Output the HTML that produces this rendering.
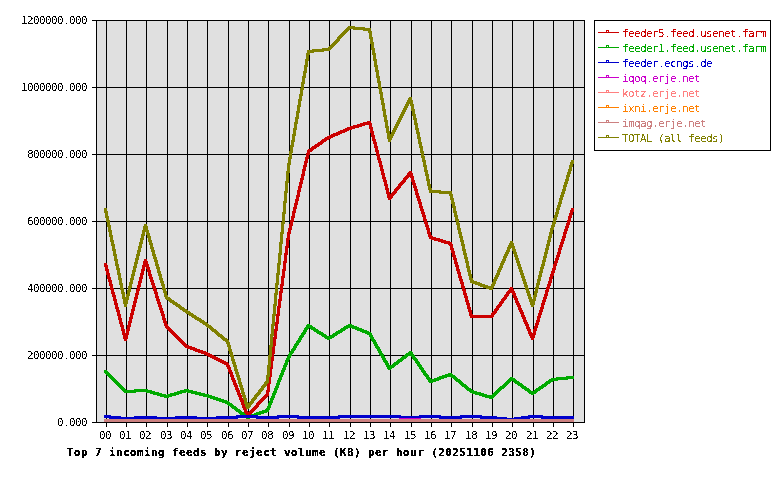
<!DOCTYPE html>
<html><head><meta charset="utf-8"><title>Top 7 incoming feeds by reject volume</title>
<style>
html,body{margin:0;padding:0;background:#fff;}
#c{position:relative;width:780px;height:480px;overflow:hidden;background:#fff;}
svg{position:absolute;left:0;top:0;}
.t{position:absolute;white-space:pre;font-family:"DejaVu Sans Mono","Liberation Mono",monospace;font-size:11px;line-height:13px;letter-spacing:-0.62px;}
.yl{text-align:right;width:66px;left:21px;color:#000;}
.xl{color:#000;}
.ti{font-weight:bold;letter-spacing:0.38px;color:#000;}
</style></head><body><div id="c">
<svg width="780" height="480" viewBox="0 0 780 480" shape-rendering="crispEdges">
<defs><filter id="th" x="0" y="0" width="100%" height="100%" color-interpolation-filters="sRGB"><feComponentTransfer><feFuncA type="discrete" tableValues="0 1"/></feComponentTransfer></filter><filter id="tb" x="0" y="0" width="100%" height="100%" color-interpolation-filters="sRGB"><feComponentTransfer><feFuncA type="discrete" tableValues="0 1 1"/></feComponentTransfer></filter></defs>
<rect x="96" y="20" width="489" height="403" fill="#e0e0e0"/>
<path d="M92 20h493v1h-493zM92 87h493v1h-493zM92 154h493v1h-493zM92 221h493v1h-493zM92 288h493v1h-493zM92 355h493v1h-493zM92 422h493v1h-493zM96 20h1v403h-1zM584 20h1v403h-1zM106 20h1v407h-1zM126 20h1v407h-1zM146 20h1v407h-1zM167 20h1v407h-1zM187 20h1v407h-1zM207 20h1v407h-1zM228 20h1v407h-1zM248 20h1v407h-1zM268 20h1v407h-1zM289 20h1v407h-1zM309 20h1v407h-1zM329 20h1v407h-1zM350 20h1v407h-1zM370 20h1v407h-1zM390 20h1v407h-1zM411 20h1v407h-1zM431 20h1v407h-1zM451 20h1v407h-1zM472 20h1v407h-1zM492 20h1v407h-1zM512 20h1v407h-1zM533 20h1v407h-1zM553 20h1v407h-1zM573 20h1v407h-1z" fill="#000"/>
<path d="M367 121h4v1h-4zM363 122h8v1h-8zM360 123h12v1h-12zM357 124h15v1h-15zM353 125h12v1h-12zM369 125h3v1h-3zM350 126h12v1h-12zM369 126h3v1h-3zM347 127h12v1h-12zM369 127h4v1h-4zM345 128h10v1h-10zM369 128h4v1h-4zM343 129h9v1h-9zM370 129h3v1h-3zM340 130h9v1h-9zM370 130h3v1h-3zM338 131h9v1h-9zM370 131h4v1h-4zM336 132h9v1h-9zM370 132h4v1h-4zM333 133h9v1h-9zM371 133h3v1h-3zM331 134h9v1h-9zM371 134h3v1h-3zM329 135h9v1h-9zM371 135h4v1h-4zM327 136h8v1h-8zM371 136h4v1h-4zM325 137h8v1h-8zM372 137h3v1h-3zM324 138h7v1h-7zM372 138h3v1h-3zM322 139h7v1h-7zM372 139h4v1h-4zM321 140h6v1h-6zM372 140h4v1h-4zM320 141h6v1h-6zM373 141h3v1h-3zM318 142h6v1h-6zM373 142h4v1h-4zM317 143h6v1h-6zM373 143h4v1h-4zM315 144h7v1h-7zM374 144h3v1h-3zM314 145h6v1h-6zM374 145h3v1h-3zM312 146h7v1h-7zM374 146h4v1h-4zM311 147h6v1h-6zM374 147h4v1h-4zM310 148h6v1h-6zM375 148h3v1h-3zM308 149h6v1h-6zM375 149h3v1h-3zM307 150h6v1h-6zM375 150h4v1h-4zM307 151h5v1h-5zM375 151h4v1h-4zM307 152h3v1h-3zM376 152h3v1h-3zM306 153h4v1h-4zM376 153h3v1h-3zM306 154h4v1h-4zM376 154h4v1h-4zM306 155h3v1h-3zM376 155h4v1h-4zM306 156h3v1h-3zM377 156h3v1h-3zM305 157h4v1h-4zM377 157h3v1h-3zM305 158h4v1h-4zM377 158h4v1h-4zM305 159h3v1h-3zM377 159h4v1h-4zM305 160h3v1h-3zM378 160h3v1h-3zM304 161h4v1h-4zM378 161h4v1h-4zM304 162h4v1h-4zM378 162h4v1h-4zM304 163h3v1h-3zM379 163h3v1h-3zM304 164h3v1h-3zM379 164h3v1h-3zM303 165h4v1h-4zM379 165h4v1h-4zM303 166h4v1h-4zM379 166h4v1h-4zM303 167h3v1h-3zM380 167h3v1h-3zM303 168h3v1h-3zM380 168h3v1h-3zM302 169h4v1h-4zM380 169h4v1h-4zM302 170h4v1h-4zM380 170h4v1h-4zM302 171h3v1h-3zM381 171h3v1h-3zM409 171h3v1h-3zM302 172h3v1h-3zM381 172h3v1h-3zM408 172h4v1h-4zM302 173h3v1h-3zM381 173h4v1h-4zM407 173h6v1h-6zM301 174h4v1h-4zM381 174h4v1h-4zM407 174h6v1h-6zM301 175h4v1h-4zM382 175h3v1h-3zM406 175h7v1h-7zM301 176h3v1h-3zM382 176h3v1h-3zM405 176h9v1h-9zM301 177h3v1h-3zM382 177h4v1h-4zM404 177h5v1h-5zM410 177h4v1h-4zM300 178h4v1h-4zM382 178h4v1h-4zM403 178h5v1h-5zM411 178h3v1h-3zM300 179h4v1h-4zM383 179h3v1h-3zM403 179h4v1h-4zM411 179h3v1h-3zM300 180h3v1h-3zM383 180h4v1h-4zM402 180h4v1h-4zM411 180h4v1h-4zM300 181h3v1h-3zM383 181h4v1h-4zM401 181h5v1h-5zM411 181h4v1h-4zM299 182h4v1h-4zM384 182h3v1h-3zM400 182h5v1h-5zM412 182h3v1h-3zM299 183h4v1h-4zM384 183h3v1h-3zM399 183h5v1h-5zM412 183h4v1h-4zM299 184h3v1h-3zM384 184h4v1h-4zM398 184h5v1h-5zM412 184h4v1h-4zM299 185h3v1h-3zM384 185h4v1h-4zM398 185h4v1h-4zM413 185h3v1h-3zM298 186h4v1h-4zM385 186h3v1h-3zM397 186h4v1h-4zM413 186h4v1h-4zM298 187h4v1h-4zM385 187h3v1h-3zM396 187h5v1h-5zM413 187h4v1h-4zM298 188h3v1h-3zM385 188h4v1h-4zM395 188h5v1h-5zM414 188h3v1h-3zM298 189h3v1h-3zM385 189h4v1h-4zM394 189h5v1h-5zM414 189h4v1h-4zM297 190h4v1h-4zM386 190h3v1h-3zM394 190h4v1h-4zM414 190h4v1h-4zM297 191h4v1h-4zM386 191h3v1h-3zM393 191h4v1h-4zM415 191h3v1h-3zM297 192h3v1h-3zM386 192h4v1h-4zM392 192h5v1h-5zM415 192h3v1h-3zM297 193h3v1h-3zM386 193h4v1h-4zM391 193h5v1h-5zM415 193h4v1h-4zM297 194h3v1h-3zM387 194h8v1h-8zM415 194h4v1h-4zM296 195h4v1h-4zM387 195h7v1h-7zM416 195h3v1h-3zM296 196h4v1h-4zM387 196h6v1h-6zM416 196h4v1h-4zM296 197h3v1h-3zM387 197h6v1h-6zM416 197h4v1h-4zM296 198h3v1h-3zM388 198h4v1h-4zM417 198h3v1h-3zM295 199h4v1h-4zM388 199h3v1h-3zM417 199h4v1h-4zM295 200h4v1h-4zM417 200h4v1h-4zM295 201h3v1h-3zM418 201h3v1h-3zM295 202h3v1h-3zM418 202h4v1h-4zM294 203h4v1h-4zM418 203h4v1h-4zM294 204h4v1h-4zM419 204h3v1h-3zM294 205h3v1h-3zM419 205h3v1h-3zM294 206h3v1h-3zM419 206h4v1h-4zM293 207h4v1h-4zM419 207h4v1h-4zM293 208h4v1h-4zM420 208h3v1h-3zM571 208h3v1h-3zM293 209h3v1h-3zM420 209h4v1h-4zM571 209h3v1h-3zM293 210h3v1h-3zM420 210h4v1h-4zM570 210h4v1h-4zM292 211h4v1h-4zM421 211h3v1h-3zM570 211h4v1h-4zM292 212h4v1h-4zM421 212h4v1h-4zM570 212h3v1h-3zM292 213h3v1h-3zM421 213h4v1h-4zM569 213h4v1h-4zM292 214h3v1h-3zM422 214h3v1h-3zM569 214h4v1h-4zM292 215h3v1h-3zM422 215h4v1h-4zM569 215h3v1h-3zM291 216h4v1h-4zM422 216h4v1h-4zM568 216h4v1h-4zM291 217h4v1h-4zM423 217h3v1h-3zM568 217h4v1h-4zM291 218h3v1h-3zM423 218h3v1h-3zM568 218h3v1h-3zM291 219h3v1h-3zM423 219h4v1h-4zM568 219h3v1h-3zM290 220h4v1h-4zM423 220h4v1h-4zM567 220h4v1h-4zM290 221h4v1h-4zM424 221h3v1h-3zM567 221h4v1h-4zM290 222h3v1h-3zM424 222h4v1h-4zM567 222h3v1h-3zM290 223h3v1h-3zM424 223h4v1h-4zM566 223h4v1h-4zM289 224h4v1h-4zM425 224h3v1h-3zM566 224h4v1h-4zM289 225h4v1h-4zM425 225h4v1h-4zM566 225h3v1h-3zM289 226h3v1h-3zM425 226h4v1h-4zM565 226h4v1h-4zM289 227h3v1h-3zM426 227h3v1h-3zM565 227h4v1h-4zM288 228h4v1h-4zM426 228h4v1h-4zM565 228h3v1h-3zM288 229h4v1h-4zM426 229h4v1h-4zM564 229h4v1h-4zM288 230h3v1h-3zM427 230h3v1h-3zM564 230h4v1h-4zM288 231h3v1h-3zM427 231h3v1h-3zM564 231h3v1h-3zM287 232h4v1h-4zM427 232h4v1h-4zM563 232h4v1h-4zM287 233h4v1h-4zM427 233h4v1h-4zM563 233h4v1h-4zM287 234h3v1h-3zM428 234h3v1h-3zM563 234h3v1h-3zM287 235h3v1h-3zM428 235h4v1h-4zM563 235h3v1h-3zM287 236h3v1h-3zM428 236h5v1h-5zM562 236h4v1h-4zM287 237h3v1h-3zM429 237h7v1h-7zM562 237h4v1h-4zM286 238h4v1h-4zM429 238h11v1h-11zM562 238h3v1h-3zM286 239h4v1h-4zM431 239h12v1h-12zM561 239h4v1h-4zM286 240h3v1h-3zM434 240h12v1h-12zM561 240h4v1h-4zM286 241h3v1h-3zM438 241h12v1h-12zM561 241h3v1h-3zM286 242h3v1h-3zM441 242h11v1h-11zM560 242h4v1h-4zM286 243h3v1h-3zM444 243h8v1h-8zM560 243h4v1h-4zM286 244h3v1h-3zM448 244h5v1h-5zM560 244h3v1h-3zM286 245h3v1h-3zM449 245h4v1h-4zM559 245h4v1h-4zM285 246h4v1h-4zM450 246h3v1h-3zM559 246h4v1h-4zM285 247h4v1h-4zM450 247h3v1h-3zM559 247h3v1h-3zM285 248h3v1h-3zM450 248h4v1h-4zM558 248h4v1h-4zM285 249h3v1h-3zM450 249h4v1h-4zM558 249h4v1h-4zM285 250h3v1h-3zM451 250h3v1h-3zM558 250h3v1h-3zM285 251h3v1h-3zM451 251h4v1h-4zM558 251h3v1h-3zM285 252h3v1h-3zM451 252h4v1h-4zM557 252h4v1h-4zM284 253h4v1h-4zM452 253h3v1h-3zM557 253h4v1h-4zM284 254h4v1h-4zM452 254h3v1h-3zM557 254h3v1h-3zM284 255h3v1h-3zM452 255h4v1h-4zM556 255h4v1h-4zM284 256h3v1h-3zM452 256h4v1h-4zM556 256h4v1h-4zM284 257h3v1h-3zM453 257h3v1h-3zM556 257h3v1h-3zM284 258h3v1h-3zM453 258h4v1h-4zM555 258h4v1h-4zM144 259h3v1h-3zM284 259h3v1h-3zM453 259h4v1h-4zM555 259h4v1h-4zM144 260h3v1h-3zM284 260h3v1h-3zM454 260h3v1h-3zM555 260h3v1h-3zM143 261h5v1h-5zM283 261h4v1h-4zM454 261h3v1h-3zM554 261h4v1h-4zM143 262h5v1h-5zM283 262h4v1h-4zM454 262h4v1h-4zM554 262h4v1h-4zM104 263h3v1h-3zM143 263h5v1h-5zM283 263h3v1h-3zM454 263h4v1h-4zM554 263h3v1h-3zM104 264h3v1h-3zM143 264h6v1h-6zM283 264h3v1h-3zM455 264h3v1h-3zM553 264h4v1h-4zM104 265h4v1h-4zM142 265h7v1h-7zM283 265h3v1h-3zM455 265h4v1h-4zM553 265h4v1h-4zM104 266h4v1h-4zM142 266h7v1h-7zM283 266h3v1h-3zM455 266h4v1h-4zM553 266h3v1h-3zM105 267h3v1h-3zM142 267h3v1h-3zM146 267h4v1h-4zM283 267h3v1h-3zM456 267h3v1h-3zM553 267h3v1h-3zM105 268h3v1h-3zM142 268h3v1h-3zM146 268h4v1h-4zM283 268h3v1h-3zM456 268h3v1h-3zM552 268h4v1h-4zM105 269h4v1h-4zM141 269h4v1h-4zM147 269h3v1h-3zM282 269h4v1h-4zM456 269h4v1h-4zM552 269h4v1h-4zM105 270h4v1h-4zM141 270h4v1h-4zM147 270h4v1h-4zM282 270h4v1h-4zM456 270h4v1h-4zM552 270h3v1h-3zM106 271h3v1h-3zM141 271h3v1h-3zM147 271h4v1h-4zM282 271h3v1h-3zM457 271h3v1h-3zM551 271h4v1h-4zM106 272h3v1h-3zM141 272h3v1h-3zM148 272h3v1h-3zM282 272h3v1h-3zM457 272h4v1h-4zM551 272h4v1h-4zM106 273h4v1h-4zM140 273h4v1h-4zM148 273h3v1h-3zM282 273h3v1h-3zM457 273h4v1h-4zM551 273h3v1h-3zM106 274h4v1h-4zM140 274h4v1h-4zM148 274h4v1h-4zM282 274h3v1h-3zM458 274h3v1h-3zM550 274h4v1h-4zM107 275h3v1h-3zM140 275h3v1h-3zM148 275h4v1h-4zM282 275h3v1h-3zM458 275h3v1h-3zM550 275h4v1h-4zM107 276h3v1h-3zM140 276h3v1h-3zM149 276h3v1h-3zM281 276h4v1h-4zM458 276h4v1h-4zM550 276h3v1h-3zM107 277h4v1h-4zM139 277h4v1h-4zM149 277h4v1h-4zM281 277h4v1h-4zM458 277h4v1h-4zM549 277h4v1h-4zM107 278h4v1h-4zM139 278h4v1h-4zM149 278h4v1h-4zM281 278h3v1h-3zM459 278h3v1h-3zM549 278h4v1h-4zM108 279h3v1h-3zM139 279h3v1h-3zM150 279h3v1h-3zM281 279h3v1h-3zM459 279h4v1h-4zM549 279h3v1h-3zM108 280h4v1h-4zM139 280h3v1h-3zM150 280h4v1h-4zM281 280h3v1h-3zM459 280h4v1h-4zM549 280h3v1h-3zM108 281h4v1h-4zM138 281h4v1h-4zM150 281h4v1h-4zM281 281h3v1h-3zM460 281h3v1h-3zM548 281h4v1h-4zM109 282h3v1h-3zM138 282h4v1h-4zM151 282h3v1h-3zM281 282h3v1h-3zM460 282h4v1h-4zM548 282h4v1h-4zM109 283h3v1h-3zM138 283h3v1h-3zM151 283h4v1h-4zM281 283h3v1h-3zM460 283h4v1h-4zM548 283h3v1h-3zM109 284h4v1h-4zM138 284h3v1h-3zM151 284h4v1h-4zM280 284h4v1h-4zM461 284h3v1h-3zM547 284h4v1h-4zM109 285h4v1h-4zM137 285h4v1h-4zM152 285h3v1h-3zM280 285h4v1h-4zM461 285h3v1h-3zM547 285h4v1h-4zM110 286h3v1h-3zM137 286h4v1h-4zM152 286h4v1h-4zM280 286h3v1h-3zM461 286h4v1h-4zM547 286h3v1h-3zM110 287h3v1h-3zM137 287h3v1h-3zM152 287h4v1h-4zM280 287h3v1h-3zM461 287h4v1h-4zM510 287h3v1h-3zM546 287h4v1h-4zM110 288h4v1h-4zM137 288h3v1h-3zM153 288h3v1h-3zM280 288h3v1h-3zM462 288h3v1h-3zM509 288h4v1h-4zM546 288h4v1h-4zM110 289h4v1h-4zM136 289h4v1h-4zM153 289h4v1h-4zM280 289h3v1h-3zM462 289h4v1h-4zM509 289h5v1h-5zM546 289h3v1h-3zM111 290h3v1h-3zM136 290h4v1h-4zM153 290h4v1h-4zM280 290h3v1h-3zM462 290h4v1h-4zM508 290h6v1h-6zM545 290h4v1h-4zM111 291h3v1h-3zM136 291h3v1h-3zM154 291h3v1h-3zM279 291h4v1h-4zM463 291h3v1h-3zM507 291h8v1h-8zM545 291h4v1h-4zM111 292h4v1h-4zM136 292h3v1h-3zM154 292h4v1h-4zM279 292h4v1h-4zM463 292h3v1h-3zM506 292h9v1h-9zM545 292h3v1h-3zM111 293h4v1h-4zM135 293h4v1h-4zM154 293h4v1h-4zM279 293h3v1h-3zM463 293h4v1h-4zM506 293h4v1h-4zM512 293h4v1h-4zM545 293h3v1h-3zM112 294h3v1h-3zM135 294h4v1h-4zM155 294h3v1h-3zM279 294h3v1h-3zM463 294h4v1h-4zM505 294h4v1h-4zM512 294h4v1h-4zM544 294h4v1h-4zM112 295h4v1h-4zM135 295h3v1h-3zM155 295h3v1h-3zM279 295h3v1h-3zM464 295h3v1h-3zM504 295h5v1h-5zM513 295h3v1h-3zM544 295h4v1h-4zM112 296h4v1h-4zM135 296h3v1h-3zM155 296h4v1h-4zM279 296h3v1h-3zM464 296h4v1h-4zM504 296h4v1h-4zM513 296h4v1h-4zM544 296h3v1h-3zM113 297h3v1h-3zM134 297h4v1h-4zM155 297h4v1h-4zM279 297h3v1h-3zM464 297h4v1h-4zM503 297h4v1h-4zM513 297h4v1h-4zM543 297h4v1h-4zM113 298h3v1h-3zM134 298h4v1h-4zM156 298h3v1h-3zM279 298h3v1h-3zM465 298h3v1h-3zM502 298h5v1h-5zM514 298h4v1h-4zM543 298h4v1h-4zM113 299h4v1h-4zM134 299h3v1h-3zM156 299h4v1h-4zM278 299h4v1h-4zM465 299h3v1h-3zM501 299h5v1h-5zM514 299h4v1h-4zM543 299h3v1h-3zM113 300h4v1h-4zM134 300h3v1h-3zM156 300h4v1h-4zM278 300h4v1h-4zM465 300h4v1h-4zM501 300h4v1h-4zM515 300h3v1h-3zM542 300h4v1h-4zM114 301h3v1h-3zM133 301h4v1h-4zM157 301h3v1h-3zM278 301h3v1h-3zM465 301h4v1h-4zM500 301h4v1h-4zM515 301h4v1h-4zM542 301h4v1h-4zM114 302h3v1h-3zM133 302h4v1h-4zM157 302h4v1h-4zM278 302h3v1h-3zM466 302h3v1h-3zM499 302h5v1h-5zM515 302h4v1h-4zM542 302h3v1h-3zM114 303h4v1h-4zM133 303h3v1h-3zM157 303h4v1h-4zM278 303h3v1h-3zM466 303h4v1h-4zM499 303h4v1h-4zM516 303h4v1h-4zM541 303h4v1h-4zM114 304h4v1h-4zM133 304h3v1h-3zM158 304h3v1h-3zM278 304h3v1h-3zM466 304h4v1h-4zM498 304h4v1h-4zM516 304h4v1h-4zM541 304h4v1h-4zM115 305h3v1h-3zM132 305h4v1h-4zM158 305h4v1h-4zM278 305h3v1h-3zM467 305h3v1h-3zM497 305h5v1h-5zM517 305h4v1h-4zM541 305h3v1h-3zM115 306h3v1h-3zM132 306h4v1h-4zM158 306h4v1h-4zM277 306h4v1h-4zM467 306h3v1h-3zM496 306h5v1h-5zM517 306h4v1h-4zM541 306h3v1h-3zM115 307h4v1h-4zM132 307h3v1h-3zM159 307h3v1h-3zM277 307h4v1h-4zM467 307h4v1h-4zM496 307h4v1h-4zM518 307h3v1h-3zM540 307h4v1h-4zM115 308h4v1h-4zM132 308h3v1h-3zM159 308h4v1h-4zM277 308h3v1h-3zM467 308h4v1h-4zM495 308h4v1h-4zM518 308h4v1h-4zM540 308h4v1h-4zM116 309h3v1h-3zM131 309h4v1h-4zM159 309h4v1h-4zM277 309h3v1h-3zM468 309h3v1h-3zM494 309h5v1h-5zM518 309h4v1h-4zM540 309h3v1h-3zM116 310h4v1h-4zM131 310h4v1h-4zM160 310h3v1h-3zM277 310h3v1h-3zM468 310h4v1h-4zM494 310h4v1h-4zM519 310h4v1h-4zM539 310h4v1h-4zM116 311h4v1h-4zM131 311h3v1h-3zM160 311h4v1h-4zM277 311h3v1h-3zM468 311h4v1h-4zM493 311h4v1h-4zM519 311h4v1h-4zM539 311h4v1h-4zM117 312h3v1h-3zM131 312h3v1h-3zM160 312h4v1h-4zM277 312h3v1h-3zM469 312h3v1h-3zM492 312h5v1h-5zM520 312h4v1h-4zM539 312h3v1h-3zM117 313h3v1h-3zM130 313h4v1h-4zM161 313h3v1h-3zM277 313h3v1h-3zM469 313h3v1h-3zM491 313h5v1h-5zM520 313h4v1h-4zM538 313h4v1h-4zM117 314h4v1h-4zM130 314h4v1h-4zM161 314h4v1h-4zM276 314h4v1h-4zM469 314h4v1h-4zM491 314h4v1h-4zM521 314h3v1h-3zM538 314h4v1h-4zM117 315h4v1h-4zM130 315h3v1h-3zM161 315h4v1h-4zM276 315h4v1h-4zM469 315h25v1h-25zM521 315h4v1h-4zM538 315h3v1h-3zM118 316h3v1h-3zM130 316h3v1h-3zM162 316h3v1h-3zM276 316h3v1h-3zM470 316h24v1h-24zM521 316h4v1h-4zM537 316h4v1h-4zM118 317h3v1h-3zM129 317h4v1h-4zM162 317h3v1h-3zM276 317h3v1h-3zM470 317h23v1h-23zM522 317h4v1h-4zM537 317h4v1h-4zM118 318h4v1h-4zM129 318h4v1h-4zM162 318h4v1h-4zM276 318h3v1h-3zM522 318h4v1h-4zM537 318h3v1h-3zM118 319h4v1h-4zM129 319h3v1h-3zM162 319h4v1h-4zM276 319h3v1h-3zM523 319h3v1h-3zM537 319h3v1h-3zM119 320h3v1h-3zM129 320h3v1h-3zM163 320h3v1h-3zM276 320h3v1h-3zM523 320h4v1h-4zM536 320h4v1h-4zM119 321h3v1h-3zM128 321h4v1h-4zM163 321h4v1h-4zM276 321h3v1h-3zM523 321h4v1h-4zM536 321h4v1h-4zM119 322h4v1h-4zM128 322h4v1h-4zM163 322h4v1h-4zM275 322h4v1h-4zM524 322h4v1h-4zM536 322h3v1h-3zM119 323h4v1h-4zM128 323h3v1h-3zM164 323h3v1h-3zM275 323h4v1h-4zM524 323h4v1h-4zM535 323h4v1h-4zM120 324h3v1h-3zM128 324h3v1h-3zM164 324h4v1h-4zM275 324h3v1h-3zM525 324h4v1h-4zM535 324h4v1h-4zM120 325h4v1h-4zM127 325h4v1h-4zM164 325h4v1h-4zM275 325h3v1h-3zM525 325h4v1h-4zM535 325h3v1h-3zM120 326h4v1h-4zM127 326h4v1h-4zM165 326h4v1h-4zM275 326h3v1h-3zM526 326h3v1h-3zM534 326h4v1h-4zM121 327h3v1h-3zM127 327h3v1h-3zM165 327h5v1h-5zM275 327h3v1h-3zM526 327h4v1h-4zM534 327h4v1h-4zM121 328h3v1h-3zM127 328h3v1h-3zM166 328h5v1h-5zM275 328h3v1h-3zM526 328h4v1h-4zM534 328h3v1h-3zM121 329h4v1h-4zM126 329h4v1h-4zM167 329h5v1h-5zM274 329h4v1h-4zM527 329h4v1h-4zM533 329h4v1h-4zM121 330h4v1h-4zM126 330h4v1h-4zM168 330h5v1h-5zM274 330h4v1h-4zM527 330h4v1h-4zM533 330h4v1h-4zM122 331h3v1h-3zM126 331h3v1h-3zM169 331h5v1h-5zM274 331h3v1h-3zM528 331h3v1h-3zM533 331h3v1h-3zM122 332h3v1h-3zM126 332h3v1h-3zM170 332h5v1h-5zM274 332h3v1h-3zM528 332h4v1h-4zM533 332h3v1h-3zM122 333h7v1h-7zM171 333h5v1h-5zM274 333h3v1h-3zM528 333h8v1h-8zM122 334h7v1h-7zM172 334h5v1h-5zM274 334h3v1h-3zM529 334h7v1h-7zM123 335h5v1h-5zM173 335h5v1h-5zM274 335h3v1h-3zM529 335h6v1h-6zM123 336h5v1h-5zM174 336h5v1h-5zM274 336h3v1h-3zM530 336h5v1h-5zM123 337h5v1h-5zM175 337h5v1h-5zM273 337h4v1h-4zM530 337h5v1h-5zM123 338h5v1h-5zM176 338h5v1h-5zM273 338h4v1h-4zM531 338h3v1h-3zM124 339h3v1h-3zM177 339h5v1h-5zM273 339h3v1h-3zM531 339h3v1h-3zM124 340h3v1h-3zM178 340h5v1h-5zM273 340h3v1h-3zM179 341h5v1h-5zM273 341h3v1h-3zM180 342h5v1h-5zM273 342h3v1h-3zM181 343h5v1h-5zM273 343h3v1h-3zM182 344h5v1h-5zM272 344h4v1h-4zM183 345h6v1h-6zM272 345h4v1h-4zM184 346h8v1h-8zM272 346h3v1h-3zM185 347h10v1h-10zM272 347h3v1h-3zM187 348h10v1h-10zM272 348h3v1h-3zM190 349h10v1h-10zM272 349h3v1h-3zM193 350h10v1h-10zM272 350h3v1h-3zM195 351h11v1h-11zM272 351h3v1h-3zM198 352h10v1h-10zM271 352h4v1h-4zM201 353h9v1h-9zM271 353h4v1h-4zM204 354h8v1h-8zM271 354h3v1h-3zM206 355h8v1h-8zM271 355h3v1h-3zM208 356h8v1h-8zM271 356h3v1h-3zM210 357h8v1h-8zM271 357h3v1h-3zM212 358h8v1h-8zM271 358h3v1h-3zM214 359h8v1h-8zM270 359h4v1h-4zM216 360h8v1h-8zM270 360h4v1h-4zM218 361h8v1h-8zM270 361h3v1h-3zM220 362h8v1h-8zM270 362h3v1h-3zM222 363h7v1h-7zM270 363h3v1h-3zM224 364h5v1h-5zM270 364h3v1h-3zM226 365h4v1h-4zM270 365h3v1h-3zM226 366h4v1h-4zM270 366h3v1h-3zM227 367h4v1h-4zM269 367h4v1h-4zM227 368h4v1h-4zM269 368h4v1h-4zM228 369h3v1h-3zM269 369h3v1h-3zM228 370h4v1h-4zM269 370h3v1h-3zM228 371h4v1h-4zM269 371h3v1h-3zM229 372h4v1h-4zM269 372h3v1h-3zM229 373h4v1h-4zM269 373h3v1h-3zM230 374h3v1h-3zM269 374h3v1h-3zM230 375h4v1h-4zM268 375h4v1h-4zM230 376h4v1h-4zM268 376h4v1h-4zM231 377h3v1h-3zM268 377h3v1h-3zM231 378h4v1h-4zM268 378h3v1h-3zM231 379h4v1h-4zM268 379h3v1h-3zM232 380h4v1h-4zM268 380h3v1h-3zM232 381h4v1h-4zM268 381h3v1h-3zM233 382h3v1h-3zM267 382h4v1h-4zM233 383h4v1h-4zM267 383h4v1h-4zM233 384h4v1h-4zM267 384h3v1h-3zM234 385h4v1h-4zM267 385h3v1h-3zM234 386h4v1h-4zM267 386h3v1h-3zM235 387h3v1h-3zM267 387h3v1h-3zM235 388h4v1h-4zM267 388h3v1h-3zM235 389h4v1h-4zM267 389h3v1h-3zM236 390h4v1h-4zM266 390h4v1h-4zM236 391h4v1h-4zM266 391h4v1h-4zM237 392h3v1h-3zM266 392h3v1h-3zM237 393h4v1h-4zM266 393h3v1h-3zM237 394h4v1h-4zM265 394h4v1h-4zM238 395h4v1h-4zM264 395h5v1h-5zM238 396h4v1h-4zM263 396h5v1h-5zM239 397h3v1h-3zM262 397h5v1h-5zM239 398h4v1h-4zM261 398h5v1h-5zM239 399h4v1h-4zM260 399h5v1h-5zM240 400h4v1h-4zM259 400h5v1h-5zM240 401h4v1h-4zM258 401h5v1h-5zM241 402h3v1h-3zM257 402h5v1h-5zM241 403h4v1h-4zM256 403h5v1h-5zM241 404h4v1h-4zM256 404h4v1h-4zM242 405h3v1h-3zM255 405h4v1h-4zM242 406h4v1h-4zM254 406h5v1h-5zM242 407h4v1h-4zM253 407h5v1h-5zM243 408h4v1h-4zM252 408h5v1h-5zM243 409h4v1h-4zM251 409h5v1h-5zM244 410h3v1h-3zM250 410h5v1h-5zM244 411h4v1h-4zM249 411h5v1h-5zM244 412h9v1h-9zM245 413h7v1h-7zM245 414h6v1h-6zM246 415h4v1h-4zM246 416h3v1h-3z" fill="#cc0000"/>
<path d="M307 324h3v1h-3zM348 324h4v1h-4zM306 325h6v1h-6zM346 325h8v1h-8zM306 326h7v1h-7zM344 326h13v1h-13zM305 327h10v1h-10zM343 327h16v1h-16zM304 328h5v1h-5zM310 328h6v1h-6zM341 328h7v1h-7zM352 328h10v1h-10zM304 329h4v1h-4zM311 329h7v1h-7zM340 329h6v1h-6zM355 329h9v1h-9zM303 330h4v1h-4zM313 330h6v1h-6zM338 330h7v1h-7zM357 330h10v1h-10zM303 331h4v1h-4zM314 331h7v1h-7zM336 331h7v1h-7zM360 331h9v1h-9zM302 332h4v1h-4zM316 332h7v1h-7zM335 332h7v1h-7zM362 332h9v1h-9zM301 333h5v1h-5zM317 333h7v1h-7zM333 333h7v1h-7zM365 333h7v1h-7zM301 334h4v1h-4zM319 334h7v1h-7zM332 334h6v1h-6zM367 334h5v1h-5zM300 335h4v1h-4zM321 335h6v1h-6zM330 335h7v1h-7zM369 335h4v1h-4zM299 336h5v1h-5zM322 336h13v1h-13zM369 336h4v1h-4zM299 337h4v1h-4zM324 337h10v1h-10zM370 337h4v1h-4zM298 338h4v1h-4zM325 338h7v1h-7zM370 338h4v1h-4zM298 339h4v1h-4zM327 339h3v1h-3zM371 339h4v1h-4zM297 340h4v1h-4zM371 340h5v1h-5zM296 341h5v1h-5zM372 341h4v1h-4zM296 342h4v1h-4zM373 342h4v1h-4zM295 343h4v1h-4zM373 343h4v1h-4zM294 344h5v1h-5zM374 344h4v1h-4zM294 345h4v1h-4zM374 345h4v1h-4zM293 346h4v1h-4zM375 346h4v1h-4zM293 347h4v1h-4zM375 347h5v1h-5zM292 348h4v1h-4zM376 348h4v1h-4zM291 349h5v1h-5zM377 349h4v1h-4zM291 350h4v1h-4zM377 350h4v1h-4zM290 351h4v1h-4zM378 351h4v1h-4zM409 351h3v1h-3zM289 352h5v1h-5zM378 352h4v1h-4zM408 352h5v1h-5zM289 353h4v1h-4zM379 353h4v1h-4zM406 353h7v1h-7zM288 354h4v1h-4zM379 354h5v1h-5zM405 354h9v1h-9zM288 355h4v1h-4zM380 355h4v1h-4zM404 355h11v1h-11zM287 356h4v1h-4zM381 356h4v1h-4zM402 356h6v1h-6zM411 356h4v1h-4zM287 357h4v1h-4zM381 357h4v1h-4zM401 357h6v1h-6zM412 357h4v1h-4zM286 358h4v1h-4zM382 358h4v1h-4zM400 358h6v1h-6zM412 358h5v1h-5zM286 359h4v1h-4zM382 359h4v1h-4zM398 359h6v1h-6zM413 359h5v1h-5zM285 360h4v1h-4zM383 360h4v1h-4zM397 360h6v1h-6zM414 360h4v1h-4zM285 361h4v1h-4zM383 361h5v1h-5zM396 361h6v1h-6zM415 361h4v1h-4zM285 362h3v1h-3zM384 362h4v1h-4zM394 362h6v1h-6zM415 362h5v1h-5zM284 363h4v1h-4zM385 363h4v1h-4zM393 363h6v1h-6zM416 363h4v1h-4zM284 364h4v1h-4zM385 364h4v1h-4zM392 364h6v1h-6zM417 364h4v1h-4zM283 365h4v1h-4zM386 365h10v1h-10zM417 365h5v1h-5zM283 366h4v1h-4zM386 366h9v1h-9zM418 366h4v1h-4zM283 367h3v1h-3zM387 367h7v1h-7zM419 367h4v1h-4zM282 368h4v1h-4zM387 368h5v1h-5zM419 368h5v1h-5zM282 369h4v1h-4zM388 369h3v1h-3zM420 369h4v1h-4zM104 370h3v1h-3zM281 370h4v1h-4zM421 370h4v1h-4zM104 371h4v1h-4zM281 371h4v1h-4zM421 371h5v1h-5zM104 372h5v1h-5zM281 372h3v1h-3zM422 372h4v1h-4zM105 373h5v1h-5zM280 373h4v1h-4zM423 373h4v1h-4zM448 373h4v1h-4zM106 374h5v1h-5zM280 374h4v1h-4zM423 374h5v1h-5zM445 374h8v1h-8zM107 375h5v1h-5zM279 375h4v1h-4zM424 375h5v1h-5zM442 375h13v1h-13zM108 376h5v1h-5zM279 376h4v1h-4zM425 376h4v1h-4zM439 376h17v1h-17zM566 376h8v1h-8zM109 377h5v1h-5zM279 377h3v1h-3zM426 377h4v1h-4zM437 377h10v1h-10zM451 377h6v1h-6zM510 377h3v1h-3zM556 377h18v1h-18zM110 378h5v1h-5zM278 378h4v1h-4zM426 378h5v1h-5zM434 378h10v1h-10zM453 378h5v1h-5zM509 378h6v1h-6zM551 378h23v1h-23zM111 379h5v1h-5zM278 379h4v1h-4zM427 379h14v1h-14zM454 379h6v1h-6zM508 379h8v1h-8zM549 379h19v1h-19zM112 380h5v1h-5zM277 380h4v1h-4zM428 380h11v1h-11zM455 380h6v1h-6zM507 380h10v1h-10zM548 380h10v1h-10zM113 381h5v1h-5zM277 381h4v1h-4zM428 381h8v1h-8zM456 381h6v1h-6zM506 381h5v1h-5zM513 381h6v1h-6zM546 381h7v1h-7zM114 382h5v1h-5zM277 382h3v1h-3zM429 382h4v1h-4zM458 382h5v1h-5zM505 382h5v1h-5zM514 382h6v1h-6zM545 382h6v1h-6zM115 383h5v1h-5zM276 383h4v1h-4zM459 383h5v1h-5zM504 383h5v1h-5zM515 383h7v1h-7zM544 383h6v1h-6zM116 384h5v1h-5zM276 384h4v1h-4zM460 384h6v1h-6zM503 384h5v1h-5zM517 384h6v1h-6zM542 384h6v1h-6zM117 385h5v1h-5zM276 385h3v1h-3zM461 385h6v1h-6zM502 385h5v1h-5zM518 385h6v1h-6zM541 385h6v1h-6zM118 386h5v1h-5zM275 386h4v1h-4zM462 386h6v1h-6zM500 386h6v1h-6zM520 386h6v1h-6zM539 386h7v1h-7zM119 387h5v1h-5zM275 387h4v1h-4zM464 387h5v1h-5zM499 387h6v1h-6zM521 387h6v1h-6zM538 387h6v1h-6zM120 388h5v1h-5zM274 388h4v1h-4zM465 388h6v1h-6zM498 388h6v1h-6zM522 388h7v1h-7zM536 388h7v1h-7zM121 389h5v1h-5zM134 389h14v1h-14zM184 389h5v1h-5zM274 389h4v1h-4zM466 389h6v1h-6zM497 389h5v1h-5zM524 389h6v1h-6zM535 389h6v1h-6zM122 390h30v1h-30zM180 390h13v1h-13zM274 390h3v1h-3zM467 390h7v1h-7zM496 390h5v1h-5zM525 390h6v1h-6zM534 390h6v1h-6zM123 391h32v1h-32zM177 391h20v1h-20zM273 391h4v1h-4zM469 391h8v1h-8zM495 391h5v1h-5zM527 391h11v1h-11zM124 392h12v1h-12zM146 392h13v1h-13zM174 392h12v1h-12zM187 392h14v1h-14zM273 392h4v1h-4zM470 392h11v1h-11zM494 392h5v1h-5zM528 392h9v1h-9zM150 393h12v1h-12zM170 393h12v1h-12zM191 393h14v1h-14zM272 393h4v1h-4zM472 393h12v1h-12zM493 393h5v1h-5zM529 393h7v1h-7zM153 394h13v1h-13zM167 394h12v1h-12zM195 394h14v1h-14zM272 394h4v1h-4zM475 394h12v1h-12zM492 394h5v1h-5zM531 394h3v1h-3zM157 395h19v1h-19zM199 395h13v1h-13zM272 395h3v1h-3zM479 395h17v1h-17zM160 396h12v1h-12zM203 396h12v1h-12zM271 396h4v1h-4zM482 396h13v1h-13zM164 397h5v1h-5zM207 397h11v1h-11zM271 397h4v1h-4zM485 397h9v1h-9zM210 398h11v1h-11zM270 398h4v1h-4zM489 398h4v1h-4zM213 399h11v1h-11zM270 399h4v1h-4zM216 400h11v1h-11zM270 400h3v1h-3zM219 401h10v1h-10zM269 401h4v1h-4zM222 402h8v1h-8zM269 402h4v1h-4zM225 403h7v1h-7zM268 403h4v1h-4zM227 404h6v1h-6zM268 404h4v1h-4zM228 405h6v1h-6zM268 405h3v1h-3zM230 406h6v1h-6zM267 406h4v1h-4zM231 407h6v1h-6zM267 407h4v1h-4zM232 408h6v1h-6zM266 408h4v1h-4zM234 409h6v1h-6zM265 409h5v1h-5zM235 410h6v1h-6zM262 410h7v1h-7zM236 411h6v1h-6zM259 411h10v1h-10zM238 412h6v1h-6zM256 412h11v1h-11zM239 413h6v1h-6zM254 413h10v1h-10zM240 414h6v1h-6zM251 414h10v1h-10zM242 415h16v1h-16zM243 416h13v1h-13zM244 417h9v1h-9zM246 418h4v1h-4z" fill="#00aa00"/>
<path d="M104 415h7v1h-7zM236 415h22v1h-22zM277 415h22v1h-22zM338 415h63v1h-63zM419 415h22v1h-22zM460 415h22v1h-22zM528 415h15v1h-15zM104 416h17v1h-17zM134 416h23v1h-23zM175 416h22v1h-22zM216 416h281v1h-281zM521 416h53v1h-53zM104 417h403v1h-403zM514 417h60v1h-60zM109 418h129v1h-129zM256 418h23v1h-23zM297 418h43v1h-43zM399 418h22v1h-22zM439 418h23v1h-23zM480 418h50v1h-50zM541 418h33v1h-33zM119 419h17v1h-17zM155 419h22v1h-22zM195 419h23v1h-23zM495 419h28v1h-28zM505 420h11v1h-11z" fill="#0000cc"/>
<path d="M399 418h22v1h-22zM104 419h470v1h-470zM104 420h470v1h-470zM104 421h297v1h-297zM419 421h155v1h-155z" fill="#cc00cc"/>
<path d="M104 419h470v1h-470zM104 420h470v1h-470zM104 421h470v1h-470z" fill="#ff8080"/>
<path d="M104 419h470v1h-470zM104 420h470v1h-470zM104 421h470v1h-470z" fill="#ff8000"/>
<path d="M104 419h470v1h-470zM104 420h470v1h-470zM104 421h470v1h-470z" fill="#cc8080"/>
<path d="M348 26h7v1h-7zM347 27h18v1h-18zM346 28h25v1h-25zM345 29h5v1h-5zM353 29h18v1h-18zM344 30h5v1h-5zM363 30h8v1h-8zM343 31h5v1h-5zM368 31h4v1h-4zM342 32h5v1h-5zM368 32h4v1h-4zM341 33h5v1h-5zM369 33h3v1h-3zM340 34h5v1h-5zM369 34h3v1h-3zM339 35h5v1h-5zM369 35h3v1h-3zM338 36h5v1h-5zM369 36h3v1h-3zM337 37h5v1h-5zM369 37h4v1h-4zM337 38h4v1h-4zM369 38h4v1h-4zM336 39h4v1h-4zM370 39h3v1h-3zM335 40h5v1h-5zM370 40h3v1h-3zM334 41h5v1h-5zM370 41h3v1h-3zM333 42h5v1h-5zM370 42h4v1h-4zM332 43h5v1h-5zM370 43h4v1h-4zM331 44h5v1h-5zM371 44h3v1h-3zM330 45h5v1h-5zM371 45h3v1h-3zM329 46h5v1h-5zM371 46h3v1h-3zM328 47h5v1h-5zM371 47h3v1h-3zM322 48h10v1h-10zM371 48h4v1h-4zM312 49h19v1h-19zM371 49h4v1h-4zM307 50h23v1h-23zM372 50h3v1h-3zM307 51h17v1h-17zM372 51h3v1h-3zM307 52h7v1h-7zM372 52h3v1h-3zM306 53h4v1h-4zM372 53h4v1h-4zM306 54h4v1h-4zM372 54h4v1h-4zM306 55h3v1h-3zM373 55h3v1h-3zM306 56h3v1h-3zM373 56h3v1h-3zM306 57h3v1h-3zM373 57h3v1h-3zM306 58h3v1h-3zM373 58h3v1h-3zM305 59h4v1h-4zM373 59h4v1h-4zM305 60h4v1h-4zM373 60h4v1h-4zM305 61h3v1h-3zM374 61h3v1h-3zM305 62h3v1h-3zM374 62h3v1h-3zM305 63h3v1h-3zM374 63h3v1h-3zM305 64h3v1h-3zM374 64h3v1h-3zM304 65h4v1h-4zM374 65h4v1h-4zM304 66h4v1h-4zM374 66h4v1h-4zM304 67h3v1h-3zM375 67h3v1h-3zM304 68h3v1h-3zM375 68h3v1h-3zM304 69h3v1h-3zM375 69h3v1h-3zM304 70h3v1h-3zM375 70h4v1h-4zM303 71h4v1h-4zM375 71h4v1h-4zM303 72h4v1h-4zM376 72h3v1h-3zM303 73h3v1h-3zM376 73h3v1h-3zM303 74h3v1h-3zM376 74h3v1h-3zM303 75h3v1h-3zM376 75h3v1h-3zM302 76h4v1h-4zM376 76h4v1h-4zM302 77h4v1h-4zM376 77h4v1h-4zM302 78h3v1h-3zM377 78h3v1h-3zM302 79h3v1h-3zM377 79h3v1h-3zM302 80h3v1h-3zM377 80h3v1h-3zM302 81h3v1h-3zM377 81h4v1h-4zM301 82h4v1h-4zM377 82h4v1h-4zM301 83h4v1h-4zM378 83h3v1h-3zM301 84h3v1h-3zM378 84h3v1h-3zM301 85h3v1h-3zM378 85h3v1h-3zM301 86h3v1h-3zM378 86h3v1h-3zM301 87h3v1h-3zM378 87h4v1h-4zM300 88h4v1h-4zM378 88h4v1h-4zM300 89h4v1h-4zM379 89h3v1h-3zM300 90h3v1h-3zM379 90h3v1h-3zM300 91h3v1h-3zM379 91h3v1h-3zM300 92h3v1h-3zM379 92h4v1h-4zM300 93h3v1h-3zM379 93h4v1h-4zM299 94h4v1h-4zM380 94h3v1h-3zM299 95h4v1h-4zM380 95h3v1h-3zM299 96h3v1h-3zM380 96h3v1h-3zM299 97h3v1h-3zM380 97h3v1h-3zM409 97h3v1h-3zM299 98h3v1h-3zM380 98h4v1h-4zM408 98h4v1h-4zM298 99h4v1h-4zM380 99h4v1h-4zM408 99h4v1h-4zM298 100h4v1h-4zM381 100h3v1h-3zM407 100h6v1h-6zM298 101h3v1h-3zM381 101h3v1h-3zM407 101h6v1h-6zM298 102h3v1h-3zM381 102h3v1h-3zM406 102h7v1h-7zM298 103h3v1h-3zM381 103h4v1h-4zM406 103h7v1h-7zM298 104h3v1h-3zM381 104h4v1h-4zM405 104h4v1h-4zM410 104h4v1h-4zM297 105h4v1h-4zM382 105h3v1h-3zM405 105h4v1h-4zM410 105h4v1h-4zM297 106h4v1h-4zM382 106h3v1h-3zM404 106h4v1h-4zM411 106h3v1h-3zM297 107h3v1h-3zM382 107h3v1h-3zM404 107h4v1h-4zM411 107h3v1h-3zM297 108h3v1h-3zM382 108h3v1h-3zM403 108h4v1h-4zM411 108h3v1h-3zM297 109h3v1h-3zM382 109h4v1h-4zM403 109h4v1h-4zM411 109h4v1h-4zM297 110h3v1h-3zM382 110h4v1h-4zM402 110h4v1h-4zM411 110h4v1h-4zM296 111h4v1h-4zM383 111h3v1h-3zM402 111h4v1h-4zM412 111h3v1h-3zM296 112h4v1h-4zM383 112h3v1h-3zM401 112h4v1h-4zM412 112h3v1h-3zM296 113h3v1h-3zM383 113h3v1h-3zM401 113h4v1h-4zM412 113h3v1h-3zM296 114h3v1h-3zM383 114h3v1h-3zM400 114h4v1h-4zM412 114h4v1h-4zM296 115h3v1h-3zM383 115h4v1h-4zM400 115h4v1h-4zM412 115h4v1h-4zM296 116h3v1h-3zM383 116h4v1h-4zM399 116h4v1h-4zM413 116h3v1h-3zM295 117h4v1h-4zM384 117h3v1h-3zM399 117h4v1h-4zM413 117h3v1h-3zM295 118h4v1h-4zM384 118h3v1h-3zM398 118h4v1h-4zM413 118h4v1h-4zM295 119h3v1h-3zM384 119h3v1h-3zM398 119h4v1h-4zM413 119h4v1h-4zM295 120h3v1h-3zM384 120h4v1h-4zM397 120h4v1h-4zM414 120h3v1h-3zM295 121h3v1h-3zM384 121h4v1h-4zM397 121h4v1h-4zM414 121h3v1h-3zM294 122h4v1h-4zM385 122h3v1h-3zM396 122h4v1h-4zM414 122h3v1h-3zM294 123h4v1h-4zM385 123h3v1h-3zM396 123h4v1h-4zM414 123h4v1h-4zM294 124h3v1h-3zM385 124h3v1h-3zM395 124h4v1h-4zM414 124h4v1h-4zM294 125h3v1h-3zM385 125h3v1h-3zM395 125h4v1h-4zM415 125h3v1h-3zM294 126h3v1h-3zM385 126h4v1h-4zM394 126h4v1h-4zM415 126h3v1h-3zM294 127h3v1h-3zM385 127h4v1h-4zM394 127h4v1h-4zM415 127h3v1h-3zM293 128h4v1h-4zM386 128h3v1h-3zM393 128h4v1h-4zM415 128h4v1h-4zM293 129h4v1h-4zM386 129h3v1h-3zM393 129h4v1h-4zM415 129h4v1h-4zM293 130h3v1h-3zM386 130h3v1h-3zM392 130h4v1h-4zM416 130h3v1h-3zM293 131h3v1h-3zM386 131h4v1h-4zM392 131h4v1h-4zM416 131h3v1h-3zM293 132h3v1h-3zM386 132h4v1h-4zM391 132h4v1h-4zM416 132h4v1h-4zM293 133h3v1h-3zM387 133h3v1h-3zM391 133h4v1h-4zM416 133h4v1h-4zM292 134h4v1h-4zM387 134h7v1h-7zM417 134h3v1h-3zM292 135h4v1h-4zM387 135h7v1h-7zM417 135h3v1h-3zM292 136h3v1h-3zM387 136h6v1h-6zM417 136h3v1h-3zM292 137h3v1h-3zM387 137h6v1h-6zM417 137h4v1h-4zM292 138h3v1h-3zM387 138h5v1h-5zM417 138h4v1h-4zM292 139h3v1h-3zM388 139h4v1h-4zM418 139h3v1h-3zM291 140h4v1h-4zM388 140h3v1h-3zM418 140h3v1h-3zM291 141h4v1h-4zM388 141h3v1h-3zM418 141h3v1h-3zM291 142h3v1h-3zM418 142h4v1h-4zM291 143h3v1h-3zM418 143h4v1h-4zM291 144h3v1h-3zM419 144h3v1h-3zM290 145h4v1h-4zM419 145h3v1h-3zM290 146h4v1h-4zM419 146h4v1h-4zM290 147h3v1h-3zM419 147h4v1h-4zM290 148h3v1h-3zM420 148h3v1h-3zM290 149h3v1h-3zM420 149h3v1h-3zM290 150h3v1h-3zM420 150h3v1h-3zM289 151h4v1h-4zM420 151h4v1h-4zM289 152h4v1h-4zM420 152h4v1h-4zM289 153h3v1h-3zM421 153h3v1h-3zM289 154h3v1h-3zM421 154h3v1h-3zM289 155h3v1h-3zM421 155h3v1h-3zM289 156h3v1h-3zM421 156h4v1h-4zM288 157h4v1h-4zM421 157h4v1h-4zM288 158h4v1h-4zM422 158h3v1h-3zM288 159h3v1h-3zM422 159h3v1h-3zM288 160h3v1h-3zM422 160h4v1h-4zM571 160h3v1h-3zM288 161h3v1h-3zM422 161h4v1h-4zM571 161h3v1h-3zM288 162h3v1h-3zM423 162h3v1h-3zM570 162h4v1h-4zM287 163h4v1h-4zM423 163h3v1h-3zM570 163h4v1h-4zM287 164h4v1h-4zM423 164h3v1h-3zM570 164h3v1h-3zM287 165h3v1h-3zM423 165h4v1h-4zM569 165h4v1h-4zM287 166h3v1h-3zM423 166h4v1h-4zM569 166h4v1h-4zM287 167h3v1h-3zM424 167h3v1h-3zM569 167h3v1h-3zM287 168h3v1h-3zM424 168h3v1h-3zM569 168h3v1h-3zM287 169h3v1h-3zM424 169h3v1h-3zM568 169h4v1h-4zM287 170h3v1h-3zM424 170h4v1h-4zM568 170h4v1h-4zM286 171h4v1h-4zM424 171h4v1h-4zM568 171h3v1h-3zM286 172h4v1h-4zM425 172h3v1h-3zM567 172h4v1h-4zM286 173h3v1h-3zM425 173h3v1h-3zM567 173h4v1h-4zM286 174h3v1h-3zM425 174h4v1h-4zM567 174h3v1h-3zM286 175h3v1h-3zM425 175h4v1h-4zM566 175h4v1h-4zM286 176h3v1h-3zM426 176h3v1h-3zM566 176h4v1h-4zM286 177h3v1h-3zM426 177h3v1h-3zM566 177h3v1h-3zM286 178h3v1h-3zM426 178h3v1h-3zM566 178h3v1h-3zM286 179h3v1h-3zM426 179h4v1h-4zM565 179h4v1h-4zM286 180h3v1h-3zM426 180h4v1h-4zM565 180h4v1h-4zM285 181h4v1h-4zM427 181h3v1h-3zM565 181h3v1h-3zM285 182h4v1h-4zM427 182h3v1h-3zM564 182h4v1h-4zM285 183h3v1h-3zM427 183h3v1h-3zM564 183h4v1h-4zM285 184h3v1h-3zM427 184h4v1h-4zM564 184h3v1h-3zM285 185h3v1h-3zM427 185h4v1h-4zM563 185h4v1h-4zM285 186h3v1h-3zM428 186h3v1h-3zM563 186h4v1h-4zM285 187h3v1h-3zM428 187h3v1h-3zM563 187h3v1h-3zM285 188h3v1h-3zM428 188h4v1h-4zM563 188h3v1h-3zM285 189h3v1h-3zM428 189h4v1h-4zM562 189h4v1h-4zM285 190h3v1h-3zM429 190h12v1h-12zM562 190h4v1h-4zM284 191h4v1h-4zM429 191h23v1h-23zM562 191h3v1h-3zM284 192h4v1h-4zM429 192h23v1h-23zM561 192h4v1h-4zM284 193h3v1h-3zM439 193h13v1h-13zM561 193h4v1h-4zM284 194h3v1h-3zM449 194h4v1h-4zM561 194h3v1h-3zM284 195h3v1h-3zM449 195h4v1h-4zM560 195h4v1h-4zM284 196h3v1h-3zM450 196h3v1h-3zM560 196h4v1h-4zM284 197h3v1h-3zM450 197h3v1h-3zM560 197h3v1h-3zM284 198h3v1h-3zM450 198h4v1h-4zM559 198h4v1h-4zM284 199h3v1h-3zM450 199h4v1h-4zM559 199h4v1h-4zM284 200h3v1h-3zM451 200h3v1h-3zM559 200h3v1h-3zM283 201h4v1h-4zM451 201h3v1h-3zM559 201h3v1h-3zM283 202h4v1h-4zM451 202h4v1h-4zM558 202h4v1h-4zM283 203h3v1h-3zM451 203h4v1h-4zM558 203h4v1h-4zM283 204h3v1h-3zM452 204h3v1h-3zM558 204h3v1h-3zM283 205h3v1h-3zM452 205h3v1h-3zM557 205h4v1h-4zM283 206h3v1h-3zM452 206h4v1h-4zM557 206h4v1h-4zM283 207h3v1h-3zM452 207h4v1h-4zM557 207h3v1h-3zM104 208h3v1h-3zM283 208h3v1h-3zM453 208h3v1h-3zM556 208h4v1h-4zM104 209h3v1h-3zM283 209h3v1h-3zM453 209h3v1h-3zM556 209h4v1h-4zM104 210h3v1h-3zM283 210h3v1h-3zM453 210h3v1h-3zM556 210h3v1h-3zM104 211h4v1h-4zM283 211h3v1h-3zM453 211h4v1h-4zM556 211h3v1h-3zM104 212h4v1h-4zM282 212h4v1h-4zM453 212h4v1h-4zM555 212h4v1h-4zM105 213h3v1h-3zM282 213h4v1h-4zM454 213h3v1h-3zM555 213h4v1h-4zM105 214h3v1h-3zM282 214h3v1h-3zM454 214h3v1h-3zM555 214h3v1h-3zM105 215h3v1h-3zM282 215h3v1h-3zM454 215h4v1h-4zM554 215h4v1h-4zM105 216h4v1h-4zM282 216h3v1h-3zM454 216h4v1h-4zM554 216h4v1h-4zM105 217h4v1h-4zM282 217h3v1h-3zM455 217h3v1h-3zM554 217h3v1h-3zM106 218h3v1h-3zM282 218h3v1h-3zM455 218h3v1h-3zM553 218h4v1h-4zM106 219h3v1h-3zM282 219h3v1h-3zM455 219h4v1h-4zM553 219h4v1h-4zM106 220h4v1h-4zM282 220h3v1h-3zM455 220h4v1h-4zM553 220h3v1h-3zM106 221h4v1h-4zM282 221h3v1h-3zM456 221h3v1h-3zM553 221h3v1h-3zM107 222h3v1h-3zM281 222h4v1h-4zM456 222h3v1h-3zM552 222h4v1h-4zM107 223h3v1h-3zM281 223h4v1h-4zM456 223h4v1h-4zM552 223h4v1h-4zM107 224h3v1h-3zM144 224h3v1h-3zM281 224h3v1h-3zM456 224h4v1h-4zM552 224h3v1h-3zM107 225h4v1h-4zM144 225h3v1h-3zM281 225h3v1h-3zM457 225h3v1h-3zM551 225h4v1h-4zM107 226h4v1h-4zM143 226h5v1h-5zM281 226h3v1h-3zM457 226h3v1h-3zM551 226h4v1h-4zM108 227h3v1h-3zM143 227h5v1h-5zM281 227h3v1h-3zM457 227h3v1h-3zM551 227h3v1h-3zM108 228h3v1h-3zM143 228h5v1h-5zM281 228h3v1h-3zM457 228h4v1h-4zM550 228h4v1h-4zM108 229h3v1h-3zM143 229h5v1h-5zM281 229h3v1h-3zM457 229h4v1h-4zM550 229h4v1h-4zM108 230h4v1h-4zM142 230h7v1h-7zM281 230h3v1h-3zM458 230h3v1h-3zM550 230h3v1h-3zM108 231h4v1h-4zM142 231h7v1h-7zM281 231h3v1h-3zM458 231h3v1h-3zM550 231h3v1h-3zM109 232h3v1h-3zM142 232h3v1h-3zM146 232h3v1h-3zM280 232h4v1h-4zM458 232h4v1h-4zM549 232h4v1h-4zM109 233h3v1h-3zM142 233h3v1h-3zM146 233h4v1h-4zM280 233h4v1h-4zM458 233h4v1h-4zM549 233h4v1h-4zM109 234h3v1h-3zM141 234h4v1h-4zM146 234h4v1h-4zM280 234h3v1h-3zM459 234h3v1h-3zM549 234h3v1h-3zM109 235h4v1h-4zM141 235h4v1h-4zM147 235h3v1h-3zM280 235h3v1h-3zM459 235h3v1h-3zM549 235h3v1h-3zM109 236h4v1h-4zM141 236h3v1h-3zM147 236h4v1h-4zM280 236h3v1h-3zM459 236h4v1h-4zM548 236h4v1h-4zM110 237h3v1h-3zM141 237h3v1h-3zM147 237h4v1h-4zM280 237h3v1h-3zM459 237h4v1h-4zM548 237h4v1h-4zM110 238h3v1h-3zM140 238h4v1h-4zM148 238h3v1h-3zM280 238h3v1h-3zM460 238h3v1h-3zM548 238h3v1h-3zM110 239h3v1h-3zM140 239h4v1h-4zM148 239h3v1h-3zM280 239h3v1h-3zM460 239h3v1h-3zM548 239h3v1h-3zM110 240h4v1h-4zM140 240h3v1h-3zM148 240h4v1h-4zM280 240h3v1h-3zM460 240h4v1h-4zM547 240h4v1h-4zM110 241h4v1h-4zM140 241h3v1h-3zM148 241h4v1h-4zM280 241h3v1h-3zM460 241h4v1h-4zM510 241h3v1h-3zM547 241h4v1h-4zM111 242h3v1h-3zM139 242h4v1h-4zM149 242h3v1h-3zM279 242h4v1h-4zM461 242h3v1h-3zM510 242h3v1h-3zM547 242h3v1h-3zM111 243h3v1h-3zM139 243h4v1h-4zM149 243h4v1h-4zM279 243h4v1h-4zM461 243h3v1h-3zM509 243h5v1h-5zM547 243h3v1h-3zM111 244h4v1h-4zM139 244h3v1h-3zM149 244h4v1h-4zM279 244h3v1h-3zM461 244h4v1h-4zM509 244h5v1h-5zM546 244h4v1h-4zM111 245h4v1h-4zM139 245h3v1h-3zM150 245h3v1h-3zM279 245h3v1h-3zM461 245h4v1h-4zM508 245h6v1h-6zM546 245h4v1h-4zM112 246h3v1h-3zM138 246h4v1h-4zM150 246h3v1h-3zM279 246h3v1h-3zM462 246h3v1h-3zM508 246h7v1h-7zM546 246h3v1h-3zM112 247h3v1h-3zM138 247h4v1h-4zM150 247h4v1h-4zM279 247h3v1h-3zM462 247h3v1h-3zM507 247h8v1h-8zM546 247h3v1h-3zM112 248h3v1h-3zM138 248h3v1h-3zM150 248h4v1h-4zM279 248h3v1h-3zM462 248h3v1h-3zM507 248h4v1h-4zM512 248h3v1h-3zM545 248h4v1h-4zM112 249h4v1h-4zM138 249h3v1h-3zM151 249h3v1h-3zM279 249h3v1h-3zM462 249h4v1h-4zM507 249h3v1h-3zM512 249h4v1h-4zM545 249h4v1h-4zM112 250h4v1h-4zM137 250h4v1h-4zM151 250h4v1h-4zM279 250h3v1h-3zM462 250h4v1h-4zM506 250h4v1h-4zM512 250h4v1h-4zM545 250h3v1h-3zM113 251h3v1h-3zM137 251h4v1h-4zM151 251h4v1h-4zM279 251h3v1h-3zM463 251h3v1h-3zM506 251h4v1h-4zM513 251h3v1h-3zM545 251h3v1h-3zM113 252h3v1h-3zM137 252h3v1h-3zM152 252h3v1h-3zM279 252h3v1h-3zM463 252h3v1h-3zM505 252h4v1h-4zM513 252h4v1h-4zM544 252h4v1h-4zM113 253h3v1h-3zM137 253h3v1h-3zM152 253h3v1h-3zM278 253h4v1h-4zM463 253h4v1h-4zM505 253h4v1h-4zM513 253h4v1h-4zM544 253h4v1h-4zM113 254h4v1h-4zM136 254h4v1h-4zM152 254h4v1h-4zM278 254h4v1h-4zM463 254h4v1h-4zM504 254h4v1h-4zM514 254h3v1h-3zM544 254h3v1h-3zM113 255h4v1h-4zM136 255h4v1h-4zM152 255h4v1h-4zM278 255h3v1h-3zM464 255h3v1h-3zM504 255h4v1h-4zM514 255h4v1h-4zM544 255h3v1h-3zM114 256h3v1h-3zM136 256h3v1h-3zM153 256h3v1h-3zM278 256h3v1h-3zM464 256h3v1h-3zM503 256h4v1h-4zM514 256h4v1h-4zM543 256h4v1h-4zM114 257h3v1h-3zM136 257h3v1h-3zM153 257h4v1h-4zM278 257h3v1h-3zM464 257h4v1h-4zM503 257h4v1h-4zM515 257h3v1h-3zM543 257h4v1h-4zM114 258h3v1h-3zM135 258h4v1h-4zM153 258h4v1h-4zM278 258h3v1h-3zM464 258h4v1h-4zM503 258h3v1h-3zM515 258h4v1h-4zM543 258h3v1h-3zM114 259h4v1h-4zM135 259h4v1h-4zM154 259h3v1h-3zM278 259h3v1h-3zM465 259h3v1h-3zM502 259h4v1h-4zM515 259h4v1h-4zM543 259h3v1h-3zM114 260h4v1h-4zM135 260h3v1h-3zM154 260h4v1h-4zM278 260h3v1h-3zM465 260h3v1h-3zM502 260h4v1h-4zM516 260h3v1h-3zM542 260h4v1h-4zM115 261h3v1h-3zM135 261h3v1h-3zM154 261h4v1h-4zM278 261h3v1h-3zM465 261h4v1h-4zM501 261h4v1h-4zM516 261h4v1h-4zM542 261h4v1h-4zM115 262h3v1h-3zM134 262h4v1h-4zM155 262h3v1h-3zM278 262h3v1h-3zM465 262h4v1h-4zM501 262h4v1h-4zM516 262h4v1h-4zM542 262h3v1h-3zM115 263h3v1h-3zM134 263h4v1h-4zM155 263h3v1h-3zM277 263h4v1h-4zM466 263h3v1h-3zM500 263h4v1h-4zM517 263h3v1h-3zM542 263h3v1h-3zM115 264h4v1h-4zM134 264h3v1h-3zM155 264h4v1h-4zM277 264h4v1h-4zM466 264h3v1h-3zM500 264h4v1h-4zM517 264h4v1h-4zM541 264h4v1h-4zM115 265h4v1h-4zM134 265h3v1h-3zM155 265h4v1h-4zM277 265h3v1h-3zM466 265h3v1h-3zM500 265h3v1h-3zM517 265h4v1h-4zM541 265h4v1h-4zM116 266h3v1h-3zM133 266h4v1h-4zM156 266h3v1h-3zM277 266h3v1h-3zM466 266h4v1h-4zM499 266h4v1h-4zM518 266h3v1h-3zM541 266h3v1h-3zM116 267h3v1h-3zM133 267h4v1h-4zM156 267h4v1h-4zM277 267h3v1h-3zM466 267h4v1h-4zM499 267h4v1h-4zM518 267h4v1h-4zM540 267h4v1h-4zM116 268h4v1h-4zM133 268h3v1h-3zM156 268h4v1h-4zM277 268h3v1h-3zM467 268h3v1h-3zM498 268h4v1h-4zM518 268h4v1h-4zM540 268h4v1h-4zM116 269h4v1h-4zM133 269h3v1h-3zM157 269h3v1h-3zM277 269h3v1h-3zM467 269h3v1h-3zM498 269h4v1h-4zM519 269h3v1h-3zM540 269h3v1h-3zM117 270h3v1h-3zM132 270h4v1h-4zM157 270h3v1h-3zM277 270h3v1h-3zM467 270h4v1h-4zM497 270h4v1h-4zM519 270h4v1h-4zM540 270h3v1h-3zM117 271h3v1h-3zM132 271h4v1h-4zM157 271h4v1h-4zM277 271h3v1h-3zM467 271h4v1h-4zM497 271h4v1h-4zM519 271h4v1h-4zM539 271h4v1h-4zM117 272h3v1h-3zM132 272h3v1h-3zM157 272h4v1h-4zM277 272h3v1h-3zM468 272h3v1h-3zM497 272h3v1h-3zM520 272h3v1h-3zM539 272h4v1h-4zM117 273h4v1h-4zM132 273h3v1h-3zM158 273h3v1h-3zM276 273h4v1h-4zM468 273h3v1h-3zM496 273h4v1h-4zM520 273h4v1h-4zM539 273h3v1h-3zM117 274h4v1h-4zM131 274h4v1h-4zM158 274h4v1h-4zM276 274h4v1h-4zM468 274h4v1h-4zM496 274h4v1h-4zM520 274h4v1h-4zM539 274h3v1h-3zM118 275h3v1h-3zM131 275h4v1h-4zM158 275h4v1h-4zM276 275h3v1h-3zM468 275h4v1h-4zM495 275h4v1h-4zM521 275h3v1h-3zM538 275h4v1h-4zM118 276h3v1h-3zM131 276h3v1h-3zM159 276h3v1h-3zM276 276h3v1h-3zM469 276h3v1h-3zM495 276h4v1h-4zM521 276h4v1h-4zM538 276h4v1h-4zM118 277h3v1h-3zM131 277h3v1h-3zM159 277h3v1h-3zM276 277h3v1h-3zM469 277h3v1h-3zM494 277h4v1h-4zM521 277h4v1h-4zM538 277h3v1h-3zM118 278h4v1h-4zM130 278h4v1h-4zM159 278h4v1h-4zM276 278h3v1h-3zM469 278h4v1h-4zM494 278h4v1h-4zM522 278h3v1h-3zM538 278h3v1h-3zM118 279h4v1h-4zM130 279h4v1h-4zM159 279h4v1h-4zM276 279h3v1h-3zM469 279h4v1h-4zM493 279h4v1h-4zM522 279h4v1h-4zM537 279h4v1h-4zM119 280h3v1h-3zM130 280h3v1h-3zM160 280h3v1h-3zM276 280h3v1h-3zM470 280h4v1h-4zM493 280h4v1h-4zM522 280h4v1h-4zM537 280h4v1h-4zM119 281h3v1h-3zM130 281h3v1h-3zM160 281h4v1h-4zM276 281h3v1h-3zM470 281h7v1h-7zM493 281h3v1h-3zM523 281h3v1h-3zM537 281h3v1h-3zM119 282h3v1h-3zM129 282h4v1h-4zM160 282h4v1h-4zM276 282h3v1h-3zM470 282h10v1h-10zM492 282h4v1h-4zM523 282h4v1h-4zM537 282h3v1h-3zM119 283h4v1h-4zM129 283h4v1h-4zM161 283h3v1h-3zM275 283h4v1h-4zM472 283h10v1h-10zM492 283h4v1h-4zM523 283h4v1h-4zM536 283h4v1h-4zM119 284h4v1h-4zM129 284h3v1h-3zM161 284h4v1h-4zM275 284h4v1h-4zM475 284h10v1h-10zM491 284h4v1h-4zM524 284h3v1h-3zM536 284h4v1h-4zM120 285h3v1h-3zM129 285h3v1h-3zM161 285h4v1h-4zM275 285h3v1h-3zM478 285h10v1h-10zM491 285h4v1h-4zM524 285h4v1h-4zM536 285h3v1h-3zM120 286h3v1h-3zM128 286h4v1h-4zM162 286h3v1h-3zM275 286h3v1h-3zM480 286h14v1h-14zM524 286h4v1h-4zM536 286h3v1h-3zM120 287h3v1h-3zM128 287h4v1h-4zM162 287h3v1h-3zM275 287h3v1h-3zM483 287h11v1h-11zM525 287h3v1h-3zM535 287h4v1h-4zM120 288h4v1h-4zM128 288h3v1h-3zM162 288h4v1h-4zM275 288h3v1h-3zM486 288h7v1h-7zM525 288h4v1h-4zM535 288h4v1h-4zM120 289h4v1h-4zM128 289h3v1h-3zM162 289h4v1h-4zM275 289h3v1h-3zM489 289h4v1h-4zM525 289h4v1h-4zM535 289h3v1h-3zM121 290h3v1h-3zM127 290h4v1h-4zM163 290h3v1h-3zM275 290h3v1h-3zM526 290h3v1h-3zM535 290h3v1h-3zM121 291h3v1h-3zM127 291h4v1h-4zM163 291h4v1h-4zM275 291h3v1h-3zM526 291h4v1h-4zM534 291h4v1h-4zM121 292h4v1h-4zM127 292h3v1h-3zM163 292h4v1h-4zM275 292h3v1h-3zM526 292h4v1h-4zM534 292h4v1h-4zM121 293h4v1h-4zM127 293h3v1h-3zM164 293h3v1h-3zM274 293h4v1h-4zM527 293h3v1h-3zM534 293h3v1h-3zM122 294h3v1h-3zM126 294h4v1h-4zM164 294h3v1h-3zM274 294h4v1h-4zM527 294h4v1h-4zM534 294h3v1h-3zM122 295h3v1h-3zM126 295h4v1h-4zM164 295h4v1h-4zM274 295h3v1h-3zM527 295h4v1h-4zM533 295h4v1h-4zM122 296h3v1h-3zM126 296h3v1h-3zM164 296h4v1h-4zM274 296h3v1h-3zM528 296h3v1h-3zM533 296h4v1h-4zM122 297h7v1h-7zM165 297h5v1h-5zM274 297h3v1h-3zM528 297h4v1h-4zM533 297h3v1h-3zM122 298h7v1h-7zM165 298h6v1h-6zM274 298h3v1h-3zM528 298h4v1h-4zM533 298h3v1h-3zM123 299h6v1h-6zM166 299h6v1h-6zM274 299h3v1h-3zM529 299h7v1h-7zM123 300h5v1h-5zM168 300h6v1h-6zM274 300h3v1h-3zM529 300h7v1h-7zM123 301h5v1h-5zM169 301h6v1h-6zM274 301h3v1h-3zM529 301h6v1h-6zM123 302h5v1h-5zM170 302h7v1h-7zM274 302h3v1h-3zM530 302h5v1h-5zM123 303h5v1h-5zM172 303h6v1h-6zM274 303h3v1h-3zM530 303h5v1h-5zM124 304h3v1h-3zM173 304h7v1h-7zM273 304h4v1h-4zM530 304h5v1h-5zM124 305h3v1h-3zM175 305h6v1h-6zM273 305h4v1h-4zM531 305h3v1h-3zM124 306h3v1h-3zM176 306h6v1h-6zM273 306h3v1h-3zM531 306h3v1h-3zM178 307h6v1h-6zM273 307h3v1h-3zM179 308h6v1h-6zM273 308h3v1h-3zM180 309h7v1h-7zM273 309h3v1h-3zM182 310h6v1h-6zM273 310h3v1h-3zM183 311h7v1h-7zM273 311h3v1h-3zM185 312h6v1h-6zM273 312h3v1h-3zM186 313h7v1h-7zM273 313h3v1h-3zM188 314h6v1h-6zM272 314h4v1h-4zM189 315h7v1h-7zM272 315h4v1h-4zM191 316h6v1h-6zM272 316h3v1h-3zM192 317h7v1h-7zM272 317h3v1h-3zM194 318h7v1h-7zM272 318h3v1h-3zM195 319h7v1h-7zM272 319h3v1h-3zM197 320h7v1h-7zM272 320h3v1h-3zM199 321h6v1h-6zM272 321h3v1h-3zM200 322h7v1h-7zM272 322h3v1h-3zM202 323h6v1h-6zM272 323h3v1h-3zM203 324h6v1h-6zM271 324h4v1h-4zM205 325h6v1h-6zM271 325h4v1h-4zM206 326h6v1h-6zM271 326h3v1h-3zM207 327h6v1h-6zM271 327h3v1h-3zM209 328h5v1h-5zM271 328h3v1h-3zM210 329h6v1h-6zM271 329h3v1h-3zM211 330h6v1h-6zM271 330h3v1h-3zM212 331h6v1h-6zM271 331h3v1h-3zM214 332h5v1h-5zM271 332h3v1h-3zM215 333h5v1h-5zM271 333h3v1h-3zM216 334h6v1h-6zM270 334h4v1h-4zM217 335h6v1h-6zM270 335h4v1h-4zM218 336h6v1h-6zM270 336h3v1h-3zM220 337h5v1h-5zM270 337h3v1h-3zM221 338h6v1h-6zM270 338h3v1h-3zM222 339h6v1h-6zM270 339h3v1h-3zM223 340h6v1h-6zM270 340h3v1h-3zM225 341h4v1h-4zM270 341h3v1h-3zM226 342h4v1h-4zM270 342h3v1h-3zM226 343h4v1h-4zM270 343h3v1h-3zM227 344h3v1h-3zM270 344h3v1h-3zM227 345h4v1h-4zM269 345h4v1h-4zM227 346h4v1h-4zM269 346h4v1h-4zM228 347h3v1h-3zM269 347h3v1h-3zM228 348h3v1h-3zM269 348h3v1h-3zM228 349h4v1h-4zM269 349h3v1h-3zM228 350h4v1h-4zM269 350h3v1h-3zM229 351h3v1h-3zM269 351h3v1h-3zM229 352h4v1h-4zM269 352h3v1h-3zM229 353h4v1h-4zM269 353h3v1h-3zM230 354h3v1h-3zM269 354h3v1h-3zM230 355h4v1h-4zM268 355h4v1h-4zM230 356h4v1h-4zM268 356h4v1h-4zM231 357h3v1h-3zM268 357h3v1h-3zM231 358h3v1h-3zM268 358h3v1h-3zM231 359h4v1h-4zM268 359h3v1h-3zM231 360h4v1h-4zM268 360h3v1h-3zM232 361h3v1h-3zM268 361h3v1h-3zM232 362h4v1h-4zM268 362h3v1h-3zM232 363h4v1h-4zM268 363h3v1h-3zM233 364h3v1h-3zM268 364h3v1h-3zM233 365h4v1h-4zM267 365h4v1h-4zM233 366h4v1h-4zM267 366h4v1h-4zM234 367h3v1h-3zM267 367h3v1h-3zM234 368h3v1h-3zM267 368h3v1h-3zM234 369h4v1h-4zM267 369h3v1h-3zM234 370h4v1h-4zM267 370h3v1h-3zM235 371h3v1h-3zM267 371h3v1h-3zM235 372h4v1h-4zM267 372h3v1h-3zM235 373h4v1h-4zM267 373h3v1h-3zM236 374h3v1h-3zM267 374h3v1h-3zM236 375h4v1h-4zM266 375h4v1h-4zM236 376h4v1h-4zM266 376h4v1h-4zM237 377h3v1h-3zM266 377h3v1h-3zM237 378h4v1h-4zM266 378h3v1h-3zM237 379h4v1h-4zM266 379h3v1h-3zM238 380h3v1h-3zM266 380h3v1h-3zM238 381h3v1h-3zM265 381h4v1h-4zM238 382h4v1h-4zM264 382h5v1h-5zM238 383h4v1h-4zM264 383h4v1h-4zM239 384h3v1h-3zM263 384h4v1h-4zM239 385h4v1h-4zM262 385h5v1h-5zM239 386h4v1h-4zM261 386h5v1h-5zM240 387h3v1h-3zM261 387h4v1h-4zM240 388h4v1h-4zM260 388h4v1h-4zM240 389h4v1h-4zM259 389h5v1h-5zM241 390h3v1h-3zM258 390h5v1h-5zM241 391h3v1h-3zM258 391h4v1h-4zM241 392h4v1h-4zM257 392h4v1h-4zM241 393h4v1h-4zM256 393h5v1h-5zM242 394h3v1h-3zM255 394h5v1h-5zM242 395h4v1h-4zM254 395h5v1h-5zM242 396h4v1h-4zM254 396h4v1h-4zM243 397h3v1h-3zM253 397h4v1h-4zM243 398h4v1h-4zM252 398h5v1h-5zM243 399h4v1h-4zM251 399h5v1h-5zM244 400h3v1h-3zM251 400h4v1h-4zM244 401h3v1h-3zM250 401h4v1h-4zM244 402h4v1h-4zM249 402h5v1h-5zM244 403h9v1h-9zM245 404h7v1h-7zM245 405h6v1h-6zM245 406h6v1h-6zM246 407h4v1h-4zM246 408h3v1h-3z" fill="#808000"/>
<path d="M594 20h177v1h-177zM594 150h177v1h-177zM594 20h1v131h-1zM770 20h1v131h-1z" fill="#000"/>
<path d="M598 32h21v1h-21zM606 30h3v1h-3zM606 31h1v1h-1zM608 31h1v1h-1z" fill="#cc0000"/>
<path d="M598 47h21v1h-21zM606 45h3v1h-3zM606 46h1v1h-1zM608 46h1v1h-1z" fill="#00aa00"/>
<path d="M598 62h21v1h-21zM606 60h3v1h-3zM606 61h1v1h-1zM608 61h1v1h-1z" fill="#0000cc"/>
<path d="M598 77h21v1h-21zM606 75h3v1h-3zM606 76h1v1h-1zM608 76h1v1h-1z" fill="#cc00cc"/>
<path d="M598 92h21v1h-21zM606 90h3v1h-3zM606 91h1v1h-1zM608 91h1v1h-1z" fill="#ff8080"/>
<path d="M598 107h21v1h-21zM606 105h3v1h-3zM606 106h1v1h-1zM608 106h1v1h-1z" fill="#ff8000"/>
<path d="M598 122h21v1h-21zM606 120h3v1h-3zM606 121h1v1h-1zM608 121h1v1h-1z" fill="#cc8080"/>
<path d="M598 137h21v1h-21zM606 135h3v1h-3zM606 136h1v1h-1zM608 136h1v1h-1z" fill="#808000"/>
</svg>
<div id="tx" style="position:absolute;left:0;top:0;width:780px;height:480px;filter:url(#th)">
<div class="t yl" style="top:14px">1200000.000</div>
<div class="t yl" style="top:81px">1000000.000</div>
<div class="t yl" style="top:148px">800000.000</div>
<div class="t yl" style="top:215px">600000.000</div>
<div class="t yl" style="top:282px">400000.000</div>
<div class="t yl" style="top:349px">200000.000</div>
<div class="t yl" style="top:416px">0.000</div>
<div class="t xl" style="left:99px;top:429px">00</div>
<div class="t xl" style="left:119px;top:429px">01</div>
<div class="t xl" style="left:139px;top:429px">02</div>
<div class="t xl" style="left:160px;top:429px">03</div>
<div class="t xl" style="left:180px;top:429px">04</div>
<div class="t xl" style="left:200px;top:429px">05</div>
<div class="t xl" style="left:221px;top:429px">06</div>
<div class="t xl" style="left:241px;top:429px">07</div>
<div class="t xl" style="left:261px;top:429px">08</div>
<div class="t xl" style="left:282px;top:429px">09</div>
<div class="t xl" style="left:302px;top:429px">10</div>
<div class="t xl" style="left:322px;top:429px">11</div>
<div class="t xl" style="left:343px;top:429px">12</div>
<div class="t xl" style="left:363px;top:429px">13</div>
<div class="t xl" style="left:383px;top:429px">14</div>
<div class="t xl" style="left:404px;top:429px">15</div>
<div class="t xl" style="left:424px;top:429px">16</div>
<div class="t xl" style="left:444px;top:429px">17</div>
<div class="t xl" style="left:465px;top:429px">18</div>
<div class="t xl" style="left:485px;top:429px">19</div>
<div class="t xl" style="left:505px;top:429px">20</div>
<div class="t xl" style="left:526px;top:429px">21</div>
<div class="t xl" style="left:546px;top:429px">22</div>
<div class="t xl" style="left:566px;top:429px">23</div>
<div class="t" style="left:622px;top:27px;color:#cc0000">feeder5.feed.usenet.farm</div>
<div class="t" style="left:622px;top:42px;color:#00aa00">feeder1.feed.usenet.farm</div>
<div class="t" style="left:622px;top:57px;color:#0000cc">feeder.ecngs.de</div>
<div class="t" style="left:622px;top:72px;color:#cc00cc">iqoq.erje.net</div>
<div class="t" style="left:622px;top:87px;color:#ff8080">kotz.erje.net</div>
<div class="t" style="left:622px;top:102px;color:#ff8000">ixni.erje.net</div>
<div class="t" style="left:622px;top:117px;color:#cc8080">imqag.erje.net</div>
<div class="t" style="left:622px;top:132px;color:#808000">TOTAL (all feeds)</div>
</div>
<div style="position:absolute;left:0;top:440px;width:780px;height:30px;filter:url(#tb)"><div class="t ti" style="left:67px;top:6px">Top 7 incoming feeds by reject volume (KB) per hour (20251106 2358)</div></div>
</div></body></html>
